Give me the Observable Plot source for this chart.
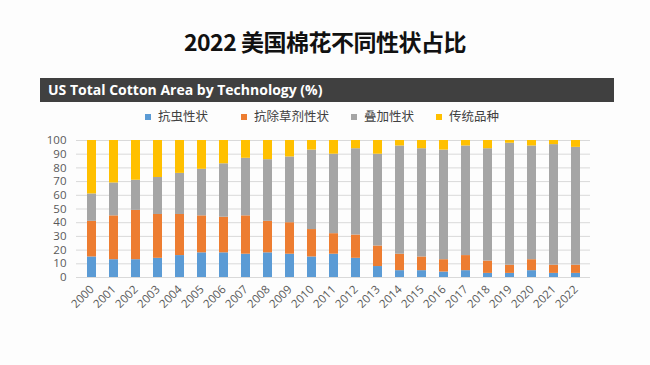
<!DOCTYPE html>
<html>
<head>
<meta charset="utf-8">
<script src="https://cdn.jsdelivr.net/npm/d3@7"></script>
<script src="https://cdn.jsdelivr.net/npm/@observablehq/plot@0.6"></script>
<style>
  html, body { margin: 0; padding: 0; background: #fdfdfd; }
  #wrap { position: relative; width: 650px; height: 365px; overflow: hidden; font-family: "Noto Sans CJK SC", "Noto Sans", sans-serif; }
  #title { position: absolute; left: 0; width: 650px; top: 24px; text-align: center; font-size: 23px; font-weight: bold; color: #111; font-family: "Noto Sans CJK SC", sans-serif; letter-spacing: -0.5px; }
  #bar { position: absolute; left: 40px; top: 78px; width: 574px; height: 24px; background: #404040; }
  #bar span { position: absolute; left: 8px; top: 2px; color: #fff; font-weight: bold; font-size: 14px; font-family: "Open Sans", "Noto Sans", sans-serif; }
  #legend { position: absolute; top: 107px; left: 0; width: 650px; height: 18px; }
  .li { position: absolute; top: 0; font-size: 12.5px; color: #404040; font-family: "Noto Sans CJK SC", sans-serif; line-height: 18px; }
  .sw { display: inline-block; width: 6px; height: 6px; margin-right: 7px; vertical-align: middle; position: relative; top: -1px; }
  #chart { position: absolute; left: 0; top: 0; }
</style>
</head>
<body>
<div id="wrap">
  <div id="chart"></div>
  <div id="title"></div>
  <div id="bar"><span id="sub"></span></div>
  <div id="legend"></div>
</div>
<script>
const titleText = "2022 美国棉花不同性状占比";
const subtitleText = "US Total Cotton Area by Technology (%)";
const years = ["2000","2001","2002","2003","2004","2005","2006","2007","2008","2009","2010","2011","2012","2013","2014","2015","2016","2017","2018","2019","2020","2021","2022"];
const seriesNames = ["抗虫性状", "抗除草剂性状", "叠加性状", "传统品种"];
const seriesColors = ["#5B9BD5", "#ED7D31", "#A5A5A5", "#FFC000"];
const insectResistant = [15,13,13,14,16,18,18,17,18,17,15,17,14,8,5,5,4,5,3,3,5,3,3];
const herbicideTolerant = [26,32,36,32,30,27,26,28,23,23,20,15,17,15,12,10,9,11,9,6,8,6,6];
const stackedTraits = [20,24,22,27,30,34,39,42,45,48,58,58,63,67,79,79,80,80,82,89,83,88,86];
const conventional = [39,31,29,27,24,21,17,13,14,12,7,10,6,10,4,6,7,4,6,2,4,3,5];
const yTicks = [0,10,20,30,40,50,60,70,80,90,100];

document.getElementById("title").textContent = titleText;
document.getElementById("sub").textContent = subtitleText;

const legendX = [145, 241, 351, 436];
const legend = document.getElementById("legend");
seriesNames.forEach((name, i) => {
  const d = document.createElement("div");
  d.className = "li";
  d.style.left = legendX[i] + "px";
  d.innerHTML = `<span class="sw" style="background:${seriesColors[i]}"></span>${name}`;
  legend.appendChild(d);
});

const allSeries = [insectResistant, herbicideTolerant, stackedTraits, conventional];
const data = [];
allSeries.forEach((vals, si) => {
  years.forEach((y, i) => data.push({year: y, series: seriesNames[si], value: vals[i]}));
});

const chart = Plot.plot({
  width: 650,
  height: 365,
  marginTop: 140,
  marginBottom: 88,
  marginLeft: 76,
  marginRight: 60,
  style: { background: "transparent", fontFamily: "'Open Sans', 'Noto Sans', sans-serif", fontSize: "11px", color: "#595959" },
  x: { domain: years, paddingInner: 0.6, paddingOuter: 0.3, label: null, tickRotate: -45, tickSize: 0, tickPadding: 10 },
  y: { domain: [0, 100], ticks: yTicks, label: null, tickSize: 0, tickPadding: 10 },
  color: { domain: seriesNames, range: seriesColors },
  marks: [
    Plot.ruleY(yTicks, { stroke: "#d9d9d9", strokeWidth: 1 }),
    Plot.barY(data, Plot.stackY({ order: seriesNames }, { x: "year", y: "value", fill: "series" })),
    Plot.axisX({ tickRotate: -45, tickSize: 0, tickPadding: 10, fontSize: 11.5, fill: "#595959" }),
    Plot.axisY({ ticks: yTicks, tickSize: 0, tickPadding: 10, fontSize: 11.5, fill: "#595959" })
  ]
});
document.getElementById("chart").appendChild(chart);
</script>
</body>
</html>
